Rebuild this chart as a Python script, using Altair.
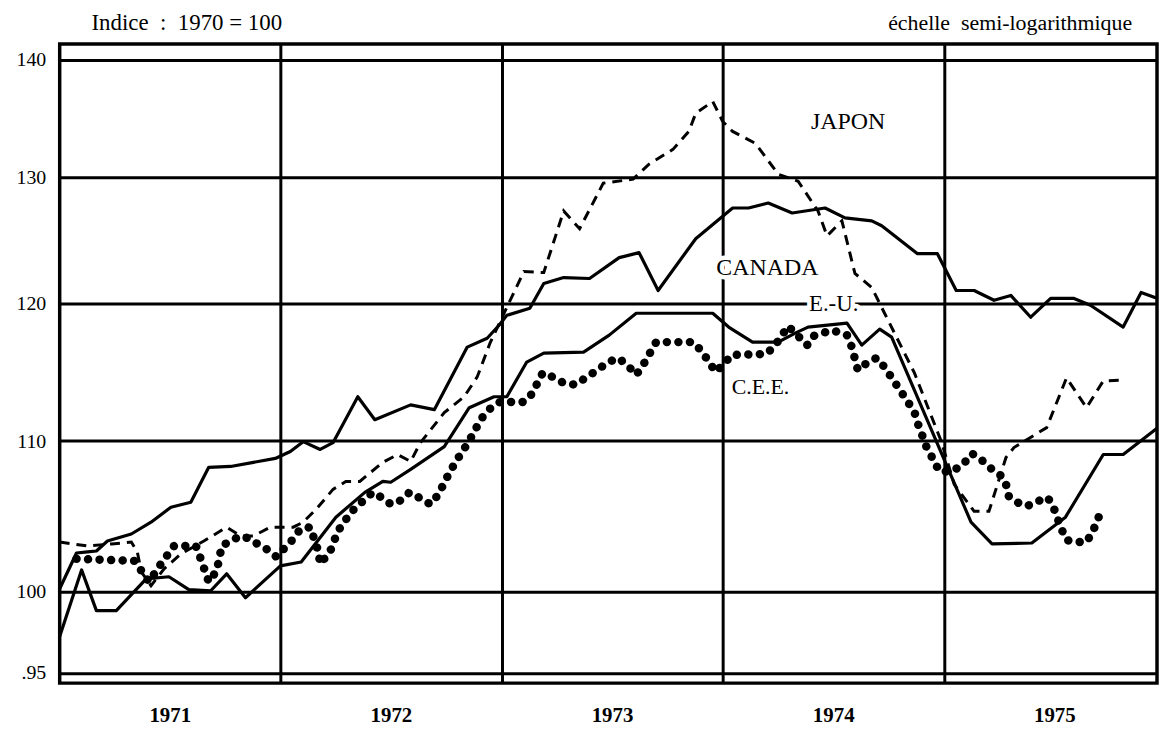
import altair as alt
import pandas as pd

# Time positions are given in years elapsed since 1 January 1971
canada_yrs = [0.000, 0.076, 0.126, 0.166, 0.216, 0.324, 0.413, 0.503, 0.593, 0.674, 0.773, 0.876, 0.975,
              1.043, 1.101, 1.178, 1.236, 1.348, 1.425, 1.587, 1.694, 1.843, 1.933, 1.987,
              2.022, 2.126, 2.189, 2.279, 2.396, 2.530, 2.620, 2.706, 2.876,
              3.043, 3.115, 3.204, 3.312, 3.461, 3.551, 3.672, 3.717, 3.879, 3.969,
              4.054, 4.135, 4.225, 4.301, 4.391, 4.481, 4.584, 4.661, 4.809, 4.890, 4.962]
canada_val = [100.19, 102.48, 102.55, 102.61, 103.26, 103.72, 104.50, 105.49, 105.83, 108.19, 108.25, 108.53, 108.80,
              109.28, 109.96, 109.42, 109.89, 113.13, 111.50, 112.55, 112.21, 116.74, 117.40, 118.37,
              119.11, 119.65, 121.54, 121.99, 121.92, 123.54, 123.93, 121.00, 125.03,
              127.48, 127.48, 127.88, 127.08, 127.48, 126.69, 126.45, 126.06, 123.85, 123.85,
              121.00, 121.00, 120.25, 120.62, 118.97, 120.40, 120.40, 119.87, 118.23, 120.85, 120.40]

eu_yrs = [0.000, 0.099, 0.166, 0.256, 0.391, 0.494, 0.584, 0.683, 0.755, 0.840, 0.998,
          1.092, 1.249, 1.380, 1.461, 1.497, 1.587, 1.739, 1.852, 1.964,
          2.022, 2.112, 2.189, 2.369, 2.485, 2.607, 2.953,
          3.025, 3.133, 3.249, 3.326, 3.384, 3.560, 3.627, 3.708, 3.762,
          4.121, 4.216, 4.396, 4.548, 4.719, 4.809, 4.962]
eu_val = [97.21, 101.39, 98.81, 98.81, 100.82, 100.95, 100.13, 100.06, 101.14, 99.62, 101.65,
          101.90, 104.83, 106.49, 107.23, 107.17, 108.05, 109.62, 112.35, 113.13,
          113.13, 115.64, 116.30, 116.37, 117.63, 119.27, 119.27,
          118.23, 117.11, 117.11, 117.78, 118.23, 118.52, 116.89, 118.08, 117.48,
          104.50, 103.07, 103.13, 104.83, 109.07, 109.07, 110.90]

japon_yrs = [0.000, 0.126, 0.234, 0.324, 0.351, 0.369, 0.413, 0.472, 0.548, 0.652, 0.755, 0.818, 0.876, 0.953,
             1.056, 1.101, 1.160, 1.236, 1.294, 1.357, 1.461, 1.528, 1.587, 1.631, 1.739, 1.829, 1.888, 1.946,
             2.022, 2.099, 2.189, 2.279, 2.351, 2.458, 2.593, 2.665, 2.773, 2.845, 2.876, 2.953, 2.998,
             3.043, 3.146, 3.249, 3.339, 3.429, 3.470, 3.537, 3.596, 3.672, 3.730, 3.865, 3.987,
             4.045, 4.135, 4.202, 4.279, 4.315, 4.373, 4.463, 4.553, 4.643, 4.719, 4.809]
japon_val = [103.19, 102.94, 103.07, 103.19, 102.55, 101.27, 100.38, 101.46, 102.42, 103.26, 104.17, 103.59, 103.59, 104.17,
             104.17, 104.50, 105.36, 106.69, 107.23, 107.23, 108.53, 109.07, 108.59, 109.89, 112.00, 113.13, 114.56, 117.04,
             119.72, 122.46, 122.38, 127.24, 125.82, 129.50, 129.83, 131.07, 132.30, 133.81, 135.35, 136.37, 134.66,
             133.81, 132.80, 130.24, 129.66, 127.24, 125.25, 126.45, 122.31, 121.23, 119.27, 114.85, 109.96,
             107.03, 105.22, 105.22, 108.86, 109.55, 110.10, 110.94, 114.49, 112.35, 114.27, 114.34]

cee_yrs = [0.076, 0.337, 0.373, 0.404, 0.458, 0.517, 0.616, 0.638, 0.674, 0.710, 0.733, 0.787, 0.831, 0.935, 0.980,
           1.056, 1.088, 1.133, 1.169, 1.178, 1.222, 1.258, 1.317, 1.380, 1.416, 1.470, 1.497, 1.542, 1.582, 1.631,
           1.676, 1.717, 1.739, 1.789, 1.847, 1.906, 1.946, 1.991,
           2.099, 2.135, 2.184, 2.229, 2.279, 2.333, 2.378, 2.431, 2.481, 2.526, 2.571, 2.607, 2.638, 2.697, 2.863,
           2.903, 2.966, 3.007, 3.038, 3.196, 3.236, 3.294, 3.380, 3.407, 3.492, 3.560, 3.582, 3.609, 3.649, 3.694,
           3.730, 3.829, 3.865, 3.879, 3.919, 3.978, 4.031, 4.081, 4.126, 4.171, 4.216, 4.261, 4.283, 4.292, 4.328,
           4.373, 4.422, 4.467, 4.494, 4.530, 4.553, 4.598, 4.643, 4.670, 4.692, 4.710]
cee_val = [102.10, 101.97, 101.27, 100.63, 101.78, 102.94, 102.94, 102.10, 100.63, 101.33, 102.94, 103.39, 103.59, 102.74, 102.23,
           103.39, 104.04, 104.17, 102.61, 101.78, 102.55, 103.91, 105.16, 106.02, 106.49, 106.02, 105.69, 105.95, 106.49, 106.09,
           105.69, 106.43, 107.17, 108.53, 109.89, 111.56, 112.28, 112.76,
           112.76, 113.33, 114.85, 114.56, 114.12, 113.99, 114.49, 115.06, 115.64, 115.94, 115.35, 114.71, 115.42, 117.11, 117.11,
           116.45, 114.92, 115.56, 116.16, 116.23, 116.89, 118.30, 116.89, 117.55, 118.00, 117.63, 116.74, 115.06, 115.56, 115.94,
           115.27, 112.91, 112.06, 111.29, 109.62, 107.91, 107.91, 108.32, 109.14, 108.66, 108.05, 107.57, 106.89, 106.22, 105.83,
           105.56, 105.89, 106.16, 105.49, 104.04, 103.32, 103.19, 103.19, 103.85, 104.56, 105.36]

years = [1971, 1972, 1973, 1974, 1975]
year_labels = ["1971", "1972", "1973", "1974", "1975"]
y_ticks = [95, 100, 110, 120, 130, 140]

series_names = ["JAPON", "CANADA", "E.-U.", "C.E.E."]
label_t = [1974.565, 1974.20, 1974.50, 1974.169]
label_v = [134.6, 122.7, 120.0, 113.8]
label_size = [24, 24, 23, 22]

BASE = 1971


def frame(yrs, vals):
    return pd.DataFrame({"t": [BASE + y for y in yrs], "v": vals})


FONT = "Liberation Serif"
x_scale = alt.Scale(domain=[1971, 1975.962], nice=False, zero=False)
y_scale = alt.Scale(type="log", domain=[94.38, 141.42], nice=False, zero=False)

X = alt.X("t:Q", scale=x_scale,
          axis=alt.Axis(values=[1972, 1973, 1974, 1975], grid=True, gridColor="black", gridWidth=3,
                        gridOpacity=1, labels=False, ticks=False, domain=False, title=None))
Y = alt.Y("v:Q", scale=y_scale,
          axis=alt.Axis(values=y_ticks, grid=True, gridColor="black", gridWidth=3, gridOpacity=1,
                        ticks=False, domain=False, title=None, labelFont=FONT, labelFontSize=20,
                        labelColor="black", labelPadding=14,
                        labelExpr="datum.value == 95 ? '.95' : datum.label"))

canada = alt.Chart(frame(canada_yrs, canada_val)).mark_line(
    color="black", strokeWidth=3.2, strokeJoin="round").encode(x=X, y=Y)
eu = alt.Chart(frame(eu_yrs, eu_val)).mark_line(
    color="black", strokeWidth=3.2, strokeJoin="round").encode(x=X, y=Y)
japon = alt.Chart(frame(japon_yrs, japon_val)).mark_line(
    color="black", strokeWidth=3, strokeDash=[10, 7]).encode(x=X, y=Y)
cee = alt.Chart(frame(cee_yrs, cee_val)).mark_line(
    color="black", strokeWidth=8.5, strokeCap="round", strokeDash=[0.1, 11.5]).encode(x=X, y=Y)

lab_df = pd.DataFrame({"t": label_t, "v": label_v, "name": series_names, "size": label_size})
halo = alt.Chart(lab_df).mark_text(font=FONT, stroke="white", strokeWidth=9, color="white",
                                   align="center", baseline="middle").encode(
    x=X, y=Y, text="name:N", size=alt.Size("size:Q", scale=None, legend=None))
labels = alt.Chart(lab_df).mark_text(font=FONT, color="black", align="center", baseline="middle").encode(
    x=X, y=Y, text="name:N", size=alt.Size("size:Q", scale=None, legend=None))

yr_df = pd.DataFrame({"t": [y + 0.5 for y in years], "lab": year_labels})
yr_text = alt.Chart(yr_df).mark_text(font=FONT, fontWeight="bold", fontSize=21, color="black",
                                     align="center", baseline="middle").encode(
    x=X, y=alt.value(676), text="lab:N")

top_df = pd.DataFrame({"a": [0]})
left_title = alt.Chart(top_df).mark_text(font=FONT, fontSize=23, color="black", align="left",
                                         baseline="alphabetic",
                                         text="Indice\u00a0\u00a0:\u00a0\u00a01970\u00a0=\u00a0100").encode(
    x=alt.value(32), y=alt.value(-14))
right_title = alt.Chart(top_df).mark_text(font=FONT, fontSize=22, color="black", align="right",
                                          baseline="alphabetic",
                                          text="échelle\u00a0\u00a0semi-logarithmique").encode(
    x=alt.value(1079), y=alt.value(-14))

chart = alt.layer(canada, eu, japon, cee, halo, labels, yr_text, left_title, right_title).properties(
    width=1104, height=643,
    autosize=alt.AutoSizeParams(type="none"),
    padding={"left": 52, "top": 34, "right": 2, "bottom": 60},
    background="white",
).configure_view(stroke="black", strokeWidth=3.5)

chart.save("out.html", embed_options={"renderer": "svg", "actions": False})
